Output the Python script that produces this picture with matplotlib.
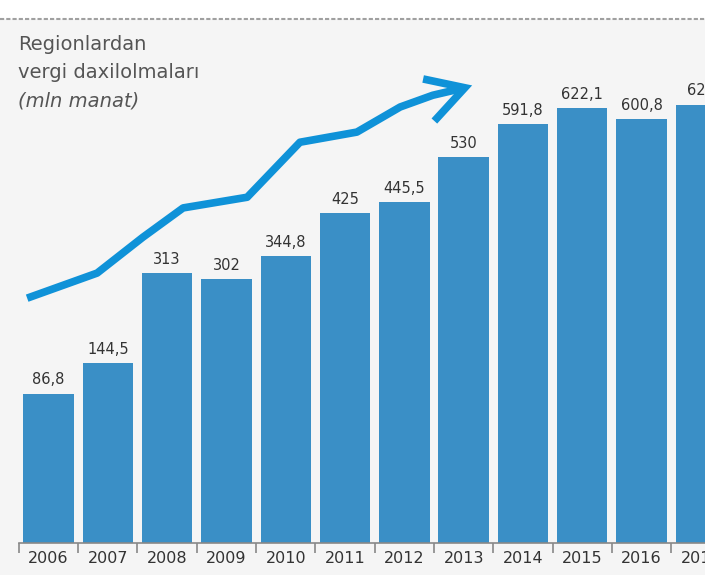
import matplotlib
matplotlib.use('Agg')
from matplotlib import pyplot as plt
import numpy as np
from matplotlib.patches import Rectangle

plt.rcParams['font.family'] = ['DejaVu Sans']

years = ['2006', '2007', '2008', '2009', '2010', '2011', '2012', '2013',
         '2014', '2015', '2016', '2017']
values = [86.8, 144.5, 313, 302, 344.8, 425, 445.5, 530, 591.8, 622.1, 600.8, 628]
labels = ['86,8', '144,5', '313', '302', '344,8', '425', '445,5', '530',
          '591,8', '622,1', '600,8', '628']

# decorative trend arrow (bar-index position, value)
trend_x = [-0.36, 0.82, 1.59, 2.27, 3.35, 4.24, 5.20, 5.93, 6.48, 7.02]
trend_y = [266, 313, 380, 435, 455, 558, 577, 624, 646, 660]
head_x = [6.38, 7.02, 6.55]
head_y = [675, 660, 603]

base = -192.5
bar_color = '#3a8fc6'
line_color = '#0f92d8'

fig = plt.figure(figsize=(7.05, 5.75), dpi=100, facecolor='#f5f5f5')
# white strip above the panel
fig.patches.append(Rectangle((0, 556 / 575), 1, 19 / 575, transform=fig.transFigure,
                             facecolor='white', edgecolor='none', zorder=0))
fig.lines.append(plt.Line2D([0, 1], [556 / 575, 556 / 575], transform=fig.transFigure,
                            color='#a0a0a0', lw=1.5, ls=(0, (2, 1))))

ax = fig.add_axes([0, 32 / 575, 1, 524 / 575])
ax.set_facecolor('none')
x = np.arange(len(years))
ax.bar(x, np.array(values) - base, bottom=base, width=0.85, color=bar_color)
for xi, v, t in zip(x, values, labels):
    ax.text(xi, v + 12, t, ha='center', va='bottom', fontsize=10.5, color='#333333')

ax.plot(trend_x, trend_y, color=line_color, lw=5.5, solid_capstyle='butt',
        solid_joinstyle='round')
ax.plot(head_x, head_y, color=line_color, lw=5.5, solid_joinstyle='miter')

ax.set_xlim(-0.818, 11.07)
ax.set_ylim(base, base + 524 / 0.534)

for s in ['top', 'right', 'left']:
    ax.spines[s].set_visible(False)
ax.spines['bottom'].set_bounds(-0.5, 11.07)
ax.spines['bottom'].set_color('#888888')
ax.spines['bottom'].set_linewidth(1.2)
ax.set_yticks([])
ax.set_xticks(np.arange(-0.5, 11.5, 1))
ax.set_xticklabels([])
ax.tick_params(axis='x', length=7, width=1.2, color='#888888', direction='out')
ax.set_xticks(x, minor=True)
ax.set_xticklabels(years, minor=True)
ax.tick_params(axis='x', which='minor', length=0, labelsize=11.5, labelcolor='#333333', pad=6)

fig.text(18 / 705, 1 - 45 / 575, 'Regionlardan', fontsize=14, color='#555555', va='center')
fig.text(18 / 705, 1 - 73 / 575, 'vergi daxilolmaları', fontsize=14, color='#555555', va='center')
fig.text(18 / 705, 1 - 101 / 575, '(mln manat)', fontsize=14, color='#555555',
         va='center', style='italic')

fig.savefig('out.png', dpi=100, facecolor=fig.get_facecolor())
